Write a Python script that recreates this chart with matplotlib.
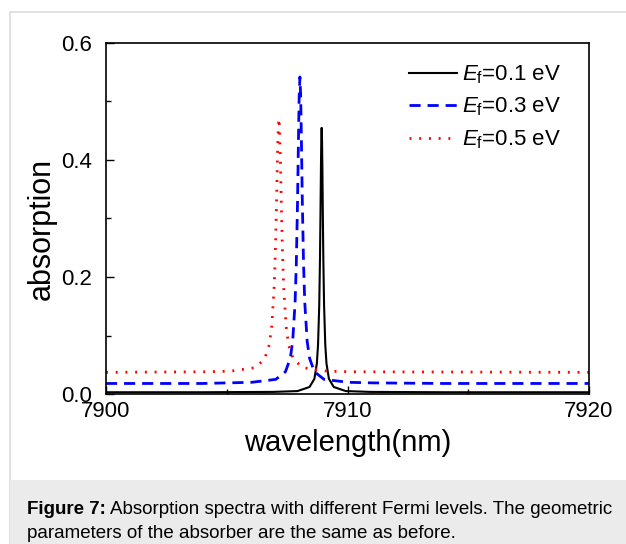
import matplotlib
matplotlib.use("Agg")
import matplotlib.pyplot as plt
from matplotlib.patches import Rectangle

plt.rcParams['font.family'] = ['Liberation Sans', 'DejaVu Sans']
plt.rcParams['mathtext.fontset'] = 'custom'
plt.rcParams['mathtext.rm'] = 'Liberation Sans'
plt.rcParams['mathtext.it'] = 'Liberation Sans:italic'

# Ef = 0.1 eV (black, solid)
wl_01 = [7900.0, 7904.0, 7906.93, 7907.93, 7908.43, 7908.63, 7908.73, 7908.78,
         7908.83, 7908.86, 7908.88, 7908.90, 7908.915, 7908.93, 7908.945,
         7908.96, 7908.98, 7909.00, 7909.03, 7909.08, 7909.13, 7909.23,
         7909.43, 7909.93, 7910.93, 7914.0, 7920.0]
ab_01 = [0.003, 0.003, 0.0036, 0.005, 0.012, 0.026, 0.052, 0.084,
         0.152, 0.229, 0.302, 0.385, 0.435, 0.455, 0.435,
         0.385, 0.302, 0.229, 0.152, 0.084, 0.052, 0.026,
         0.012, 0.005, 0.0036, 0.003, 0.003]

# Ef = 0.3 eV (blue, dashed)
wl_03 = [7900.0, 7904.0, 7905.03, 7906.03, 7907.03, 7907.43, 7907.63, 7907.73,
         7907.83, 7907.88, 7907.93, 7907.97, 7908.00, 7908.03, 7908.06,
         7908.09, 7908.13, 7908.18, 7908.23, 7908.33, 7908.43, 7908.63,
         7909.03, 7910.03, 7911.03, 7914.0, 7920.0]
ab_03 = [0.018, 0.018, 0.019, 0.020, 0.025, 0.038, 0.061, 0.090,
         0.157, 0.222, 0.327, 0.437, 0.511, 0.542, 0.511,
         0.437, 0.327, 0.222, 0.157, 0.090, 0.061, 0.038,
         0.025, 0.020, 0.019, 0.018, 0.018]

# Ef = 0.5 eV (red, dotted)
wl_05 = [7900.0, 7904.16, 7905.16, 7906.16, 7906.56, 7906.76, 7906.86, 7906.96,
         7907.01, 7907.06, 7907.10, 7907.13, 7907.16, 7907.19, 7907.22,
         7907.26, 7907.31, 7907.36, 7907.46, 7907.56, 7907.76, 7908.16,
         7909.16, 7910.16, 7920.0]
ab_05 = [0.037, 0.038, 0.039, 0.045, 0.059, 0.084, 0.115, 0.180,
         0.239, 0.324, 0.404, 0.452, 0.471, 0.452, 0.404,
         0.324, 0.239, 0.180, 0.115, 0.084, 0.059, 0.045,
         0.039, 0.038, 0.037]

labels = [r'$E_\mathrm{f}$=0.1 eV', r'$E_\mathrm{f}$=0.3 eV', r'$E_\mathrm{f}$=0.5 eV']

W, H = 626, 544
fig = plt.figure(figsize=(W / 100, H / 100), dpi=100)

# page frame and caption box
fig.patches.append(Rectangle((10 / W, 0), 1, 1 - 12 / H, transform=fig.transFigure,
                             facecolor='white', edgecolor='#dcdcdc', lw=1.2, zorder=-5))
fig.patches.append(Rectangle((10 / W, 0), 1, (H - 480) / H, transform=fig.transFigure,
                             facecolor='#ebebeb', edgecolor='none', zorder=-4))

ax = fig.add_axes([106 / W, 1 - 394 / H, (589 - 106) / W, (394 - 43) / H])
ax.set_zorder(2)
ax.plot(wl_01, ab_01, color='black', lw=1.5, label=labels[0])
ax.plot(wl_03, ab_03, color='blue', lw=2, ls=(0, (4, 2.5)), label=labels[1])
ax.plot(wl_05, ab_05, color='red', lw=2, ls=(0, (0.7, 2.8)), label=labels[2])

ax.set_xlim(7900, 7920)
ax.set_ylim(0, 0.6)
ax.set_xticks([7900, 7910, 7920])
ax.set_xticks([7905, 7915], minor=True)
ax.set_yticks([0.0, 0.2, 0.4, 0.6])
ax.set_yticks([0.1, 0.3, 0.5], minor=True)
ax.set_yticklabels(['0.0', '0.2', '0.4', '0.6'])
ax.tick_params(which='both', direction='in', labelsize=16)
ax.tick_params(which='major', length=6, width=1)
ax.tick_params(which='minor', length=3.5, width=1)
ax.tick_params(axis='x', pad=5)
ax.tick_params(axis='y', pad=10)
for s in ax.spines.values():
    s.set_linewidth(1.2)

ax.set_xlabel('wavelength(nm)', fontsize=21, labelpad=5)
ax.set_ylabel('absorption', fontsize=22)
ax.yaxis.set_label_coords(-0.102, 0.47)

ax.legend(loc='upper right', bbox_to_anchor=(0.96, 0.9675), frameon=False,
          fontsize=16, handlelength=2.16, handletextpad=0.22,
          labelspacing=0.45, borderaxespad=0)

# caption
fig.canvas.draw()
r = fig.canvas.get_renderer()
t1 = fig.text(27 / W, 1 - 509 / H, 'Figure 7:', fontsize=13.5, fontweight='bold',
              va='center', ha='left')
bb = t1.get_window_extent(renderer=r)
fig.text(bb.x1 / W + 4 / W, 1 - 509 / H,
         'Absorption spectra with different Fermi levels. The geometric',
         fontsize=13.5, va='center', ha='left')
fig.text(27 / W, 1 - 533 / H, 'parameters of the absorber are the same as before.',
         fontsize=13.5, va='center', ha='left')

fig.savefig('out.png', dpi=100)
